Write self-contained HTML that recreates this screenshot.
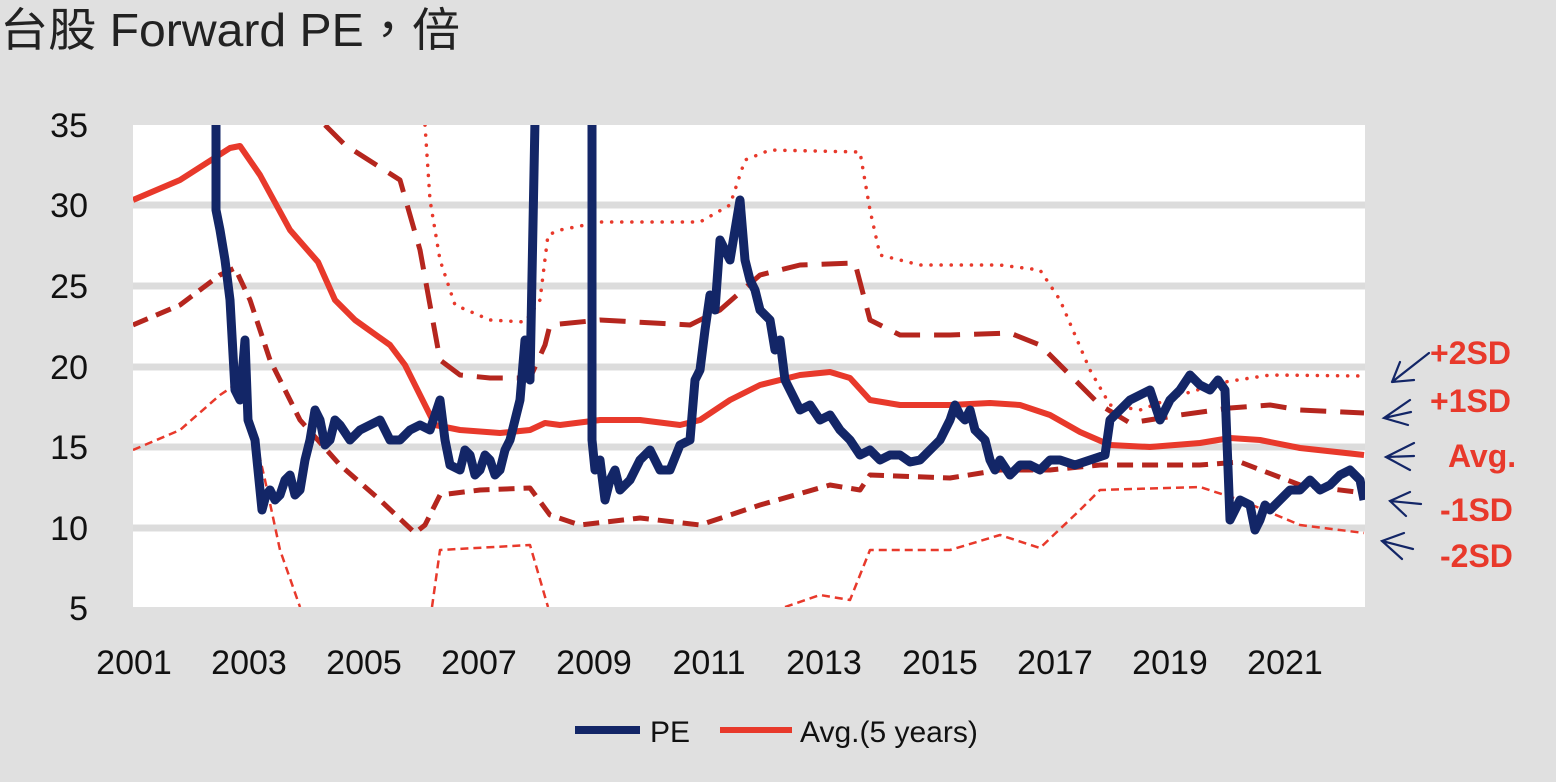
<!DOCTYPE html>
<html><head><meta charset="utf-8"><style>
html,body{margin:0;padding:0;background:#e0e0e0;}
svg{display:block;font-family:"Liberation Sans","Noto Sans CJK TC",sans-serif;}
</style></head><body>
<svg width="1556" height="782" viewBox="0 0 1556 782">
<rect width="1556" height="782" fill="#e0e0e0"/>
<text x="0" y="46" font-size="46" fill="#222" textLength="460" lengthAdjust="spacingAndGlyphs">台股 Forward PE，倍</text>
<defs><clipPath id="c"><rect x="133" y="125" width="1232" height="482"/></clipPath></defs>
<rect x="133" y="125" width="1232" height="482" fill="#fff"/>
<g stroke="#dcdcdc" stroke-width="7">
<line x1="133" y1="205" x2="1365" y2="205"/><line x1="133" y1="286" x2="1365" y2="286"/>
<line x1="133" y1="367" x2="1365" y2="367"/><line x1="133" y1="447" x2="1365" y2="447"/>
<line x1="133" y1="528" x2="1365" y2="528"/>
</g>
<g font-size="34" fill="#111" text-anchor="end">
<text x="88" y="137">35</text><text x="88" y="217">30</text><text x="88" y="298">25</text>
<text x="88" y="379">20</text><text x="88" y="459">15</text><text x="88" y="540">10</text><text x="88" y="620">5</text>
</g>
<g font-size="34" fill="#111" text-anchor="middle">
<text x="134" y="674">2001</text><text x="249" y="674">2003</text><text x="364" y="674">2005</text>
<text x="479" y="674">2007</text><text x="594" y="674">2009</text><text x="709" y="674">2011</text>
<text x="824" y="674">2013</text><text x="940" y="674">2015</text><text x="1055" y="674">2017</text>
<text x="1170" y="674">2019</text><text x="1285" y="674">2021</text>
</g>
<g clip-path="url(#c)" fill="none" stroke-linejoin="round">
<polyline stroke="#e8392b" stroke-width="3.5" stroke-dasharray="0.1 10" stroke-linecap="round" points="425,125 430,200 440,260 455,305 490,320 525,322 540,300 548,235 560,230 600,222 700,222 730,205 745,160 770,150 860,152 870,210 880,255 920,265 1000,265 1040,270 1060,300 1090,370 1110,405 1140,410 1180,395 1225,382 1270,375 1364,376"/>
<polyline stroke="#b5261e" stroke-width="5" stroke-dasharray="26 14" points="325,125 345,145 400,180 420,250 440,360 460,375 490,378 530,378 545,345 550,325 600,320 690,325 720,310 760,275 800,265 855,263 870,320 900,335 950,335 1010,333 1040,345 1070,375 1100,405 1130,423 1180,415 1230,408 1270,405 1300,410 1364,413"/>
<polyline stroke="#b5261e" stroke-width="5" stroke-dasharray="16 9" points="133,325 180,305 220,275 235,268 250,300 270,360 300,420 340,465 380,500 415,533 425,525 440,495 480,490 530,488 550,515 580,525 640,518 700,525 760,505 830,485 860,490 870,475 950,478 1000,470 1050,470 1100,465 1200,465 1240,462 1300,485 1364,493"/>
<polyline stroke="#e8392b" stroke-width="2.5" stroke-dasharray="8 5" points="133,450 180,430 220,395 235,385 250,415 265,480 280,550 300,607"/>
<polyline stroke="#e8392b" stroke-width="2.5" stroke-dasharray="8 5" points="432,607 440,550 530,545 548,607"/>
<polyline stroke="#e8392b" stroke-width="2.5" stroke-dasharray="8 5" points="785,607 820,595 850,600 870,550 950,550 1000,535 1040,548 1080,510 1100,490 1200,487 1240,500 1300,525 1364,533"/>
<polyline stroke="#e8392b" stroke-width="6" points="133,200 180,180 230,148 240,146 260,175 290,230 318,262 335,300 355,320 390,345 405,365 420,395 435,425 460,430 500,433 530,430 545,423 560,425 600,420 640,420 680,425 700,420 730,400 760,385 800,375 830,372 850,378 870,400 900,405 950,405 990,403 1020,405 1050,415 1080,432 1110,445 1150,447 1200,443 1230,438 1260,440 1300,448 1364,455"/>
<polyline stroke="#132667" stroke-width="9" points="216,120 216,210 220,230 225,260 230,300 235,390 240,400 245,340 248,420 255,440 262,510 266,495 270,490 275,500 280,495 285,480 290,475 295,495 300,490 305,460 310,440 315,410 320,420 325,445 330,440 335,420 340,425 350,440 360,430 370,425 380,420 390,440 400,440 410,430 420,425 430,430 440,400 445,440 450,465 460,470 465,450 470,455 475,475 480,470 485,455 490,460 495,475 500,470 505,450 510,440 515,420 520,400 525,340 530,380 535,120"/>
<polyline stroke="#132667" stroke-width="9" points="592,120 592,440 595,470 600,460 605,500 610,480 615,470 620,490 630,480 640,460 650,450 660,470 670,470 680,445 690,440 695,380 700,370 705,330 710,295 715,310 720,240 725,250 730,260 735,230 740,200 745,260 750,280 755,290 760,310 770,320 775,350 780,340 785,380 790,390 800,410 810,405 820,420 830,415 840,430 850,440 860,455 870,450 880,460 890,455 900,455 910,462 920,460 930,450 940,440 950,420 955,405 960,415 965,420 970,410 975,430 985,440 990,460 995,470 1000,460 1010,475 1020,465 1030,465 1040,470 1050,460 1060,460 1075,465 1090,460 1105,455 1110,420 1120,410 1130,400 1140,395 1150,390 1160,420 1170,400 1180,390 1190,375 1200,385 1210,390 1218,380 1225,390 1230,520 1240,500 1250,505 1255,530 1260,520 1265,505 1270,510 1280,500 1290,490 1300,490 1310,480 1320,490 1330,485 1340,475 1350,470 1360,480 1364,500"/>
</g>
<g font-size="32" font-weight="bold" fill="#e8392b">
<text x="1430" y="364">+2SD</text><text x="1430" y="412">+1SD</text>
<text x="1448" y="467">Avg.</text><text x="1440" y="521">-1SD</text><text x="1440" y="567">-2SD</text>
</g>
<g stroke="#132667" stroke-width="2.2" fill="none" stroke-linecap="round">
<path d="M1429,353 L1392,382 M1392,382 L1400,362 M1392,382 L1414,380"/>
<path d="M1410,400 L1384,418 L1408,425 M1384,418 L1411,412"/>
<path d="M1414,443 L1386,457 L1410,470 M1386,457 L1414,456"/>
<path d="M1410,492 L1390,501 L1406,516 M1390,501 L1421,504"/>
<path d="M1404,533 L1382,541 L1402,559 M1382,541 L1413,549"/>
</g>
<line x1="575" y1="730" x2="640" y2="730" stroke="#132667" stroke-width="8"/>
<text x="650" y="742" font-size="30" fill="#111">PE</text>
<line x1="720" y1="730" x2="792" y2="730" stroke="#e8392b" stroke-width="6"/>
<text x="800" y="742" font-size="30" fill="#111">Avg.(5 years)</text>
</svg>
</body></html>
